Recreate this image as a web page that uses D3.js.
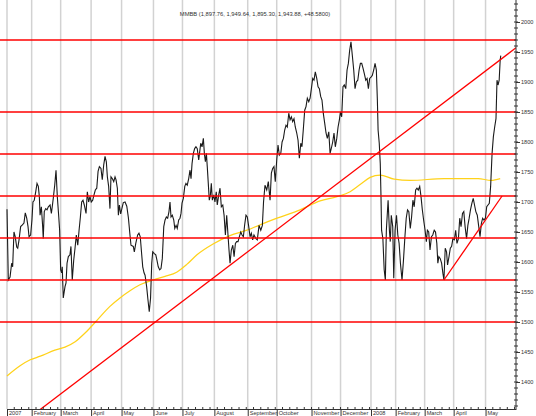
<!DOCTYPE html>
<html>
<head>
<meta charset="utf-8">
<title>MMBB</title>
<style>
  body { margin: 0; background: #fff; }
  .grid { stroke: #d2d2d2; stroke-width: 1.5px; }
  .level { stroke: #ff0000; stroke-width: 1.5px; }
  .trend { stroke: #ff0000; stroke-width: 1.3px; fill: none; }
  .price { fill: none; stroke: #1a1a1a; stroke-width: 1.1px; }
  .avg { fill: none; stroke: #ffd21a; stroke-width: 1.25px; }
  .axis text { font-family: "Liberation Sans", Arial, sans-serif; font-size: 5.6px; fill: #333; }
  .axis path, .axis line { stroke: #333; stroke-width: 1px; }
  .title { font-family: "Liberation Sans", Arial, sans-serif; font-size: 5.8px; fill: #333; }
</style>
</head>
<body>
<svg class="chart"></svg>
<script src="https://d3js.org/d3.v7.min.js"></script>
<script>
// closes: [session index, close]
var closes = [[0,1688],[0.9,1570],[2.1,1575],[3.2,1598],[3.9,1592],[4.8,1650],[5.7,1642],[6.7,1625],[7.4,1623],[8.3,1637],[9.4,1659],[10.6,1662],[11.7,1665],[12.6,1682],[13.6,1673],[14.5,1659],[15.2,1642],[16.3,1645],[17.2,1670],[17.9,1700],[18.8,1703],[19.8,1717],[20.7,1731],[21.6,1726],[22.3,1709],[22.8,1678],[23.7,1692],[24.6,1659],[25.0,1639],[25.7,1684],[26.7,1689],[27.6,1687],[28.5,1692],[29.7,1695],[30.6,1681],[31.2,1692],[31.9,1706],[32.9,1728],[33.8,1753],[34.7,1709],[35.7,1675],[36.3,1653],[37.0,1587],[37.7,1582],[38.1,1592],[38.8,1540],[40.0,1559],[40.7,1565],[41.4,1598],[42.3,1609],[43.4,1612],[44.1,1626],[45.0,1570],[46.0,1603],[46.9,1623],[47.8,1645],[48.8,1628],[49.7,1653],[50.6,1675],[51.5,1700],[52.4,1703],[53.3,1695],[54.5,1681],[55.4,1717],[56.3,1700],[57.2,1709],[58.1,1700],[59.1,1703],[60.0,1712],[60.9,1720],[61.9,1723],[62.8,1751],[63.7,1759],[64.8,1756],[65.7,1737],[66.7,1762],[67.6,1776],[68.5,1767],[69.2,1742],[70.1,1726],[71.0,1689],[71.7,1742],[72.6,1739],[73.6,1734],[74.5,1742],[75.2,1737],[76.1,1723],[76.8,1678],[77.5,1695],[78.4,1680],[79.3,1690],[80.2,1699],[81.4,1700],[82.6,1693],[83.7,1674],[84.8,1645],[85.5,1628],[87.1,1626],[87.8,1617],[88.8,1631],[90.1,1645],[91.0,1648],[91.9,1642],[92.8,1615],[93.6,1592],[94.5,1582],[95.2,1578],[96.3,1559],[97.2,1537],[98.1,1517],[99.0,1540],[99.8,1598],[100.5,1617],[101.6,1614],[102.6,1612],[103.4,1603],[104.3,1592],[105.3,1587],[106.2,1589],[107.1,1606],[108.1,1659],[109.0,1670],[109.9,1675],[110.8,1673],[111.7,1684],[112.4,1700],[113.1,1675],[114.0,1678],[115.0,1670],[115.7,1656],[116.6,1661],[117.4,1656],[118.4,1670],[119.3,1673],[120.0,1681],[120.7,1698],[121.6,1706],[122.6,1726],[123.4,1731],[124.3,1728],[125.3,1739],[126.2,1753],[126.9,1739],[127.6,1764],[128.5,1781],[129.4,1789],[130.3,1792],[131.2,1789],[132.2,1770],[132.9,1784],[133.6,1798],[134.5,1792],[135.4,1806],[136.1,1781],[136.8,1767],[137.5,1781],[138.1,1759],[138.8,1731],[139.5,1703],[140.2,1710],[140.9,1731],[141.6,1703],[142.6,1712],[143.4,1700],[144.3,1717],[145.0,1695],[146.0,1712],[146.9,1723],[147.8,1692],[148.8,1695],[149.7,1678],[150.6,1645],[151.5,1678],[152.4,1645],[153.1,1620],[153.8,1598],[154.7,1620],[155.7,1628],[156.6,1609],[157.5,1631],[158.4,1634],[159.3,1634],[160.2,1642],[161.2,1650],[162.1,1645],[163.0,1642],[163.9,1662],[164.8,1678],[165.7,1675],[166.7,1659],[167.6,1642],[168.5,1648],[169.4,1637],[170.3,1645],[171.7,1639],[172.6,1637],[173.8,1661],[175.0,1653],[176.1,1661],[176.9,1700],[177.9,1728],[179.1,1720],[180.2,1734],[181.4,1703],[182.3,1748],[183.2,1756],[184.1,1759],[185.0,1734],[186.0,1770],[186.9,1795],[187.8,1778],[188.8,1781],[189.7,1800],[190.6,1806],[191.5,1820],[192.4,1828],[193.3,1825],[194.3,1848],[195.2,1837],[196.1,1842],[197.0,1834],[197.9,1839],[198.8,1825],[199.8,1815],[200.7,1803],[201.6,1773],[202.6,1798],[203.4,1792],[204.3,1820],[205.3,1853],[206.2,1859],[207.1,1873],[208.1,1867],[209.0,1873],[209.9,1889],[210.8,1906],[211.7,1903],[212.6,1917],[213.6,1906],[214.5,1892],[215.4,1889],[216.3,1876],[217.2,1870],[218.1,1848],[219.1,1831],[220.0,1815],[220.9,1806],[221.9,1817],[222.8,1781],[223.7,1790],[224.6,1800],[225.5,1815],[226.4,1792],[227.4,1806],[228.3,1825],[229.2,1837],[229.9,1850],[230.8,1842],[231.7,1892],[232.6,1895],[233.6,1889],[234.5,1920],[235.4,1931],[236.3,1953],[237.2,1967],[238.1,1945],[239.1,1920],[240.0,1889],[240.9,1900],[241.9,1903],[242.8,1920],[243.7,1931],[244.6,1931],[245.5,1923],[246.4,1914],[247.4,1903],[248.3,1906],[249.2,1889],[250.1,1906],[251.0,1908],[251.9,1911],[252.9,1920],[253.8,1931],[254.7,1920],[255.4,1870],[255.9,1820],[256.7,1798],[257.4,1764],[257.9,1709],[258.3,1653],[259.2,1639],[260.1,1587],[260.9,1570],[261.6,1653],[262.8,1703],[263.7,1653],[264.3,1634],[265.0,1678],[266.0,1659],[266.7,1573],[267.6,1653],[268.6,1678],[269.5,1645],[270.4,1631],[271.3,1598],[272.4,1570],[273.4,1603],[274.4,1642],[275.3,1673],[276.2,1687],[277.1,1684],[278.1,1656],[279.0,1675],[279.9,1703],[280.8,1692],[281.8,1720],[282.7,1723],[283.6,1720],[284.6,1726],[285.5,1709],[286.4,1687],[287.3,1670],[288.3,1653],[289.2,1634],[289.9,1653],[290.8,1650],[291.7,1620],[292.7,1642],[293.6,1645],[294.6,1653],[295.5,1650],[296.4,1631],[297.1,1598],[297.8,1609],[298.7,1606],[299.7,1598],[300.6,1581],[301.3,1570],[302.2,1623],[303.1,1617],[303.8,1595],[304.8,1609],[305.7,1623],[306.6,1626],[307.5,1639],[308.5,1637],[309.4,1653],[310.3,1631],[311.3,1639],[312.2,1673],[313.1,1659],[314.1,1681],[315.0,1684],[315.9,1659],[316.9,1639],[317.8,1661],[318.7,1673],[319.6,1687],[320.6,1698],[321.5,1706],[322.4,1695],[323.3,1684],[324.3,1678],[325.2,1661],[326.2,1642],[327.1,1664],[328.0,1673],[328.9,1670],[329.9,1673],[330.8,1692],[331.7,1695],[332.6,1698],[333.5,1726],[334.5,1781],[335.4,1809],[336.3,1825],[337.2,1839],[337.9,1903],[338.6,1895],[339.4,1903],[340.1,1937],[340.5,1944]];

// moving average (yellow)
var average = [[0,1410],[9,1427],[16,1437],[23,1443],[33,1453],[40,1458],[47,1467],[54,1482],[61,1500],[71,1526],[77.9,1540],[84.8,1552],[91.7,1562],[100.7,1570],[109,1576],[117,1583],[124,1596],[131,1612],[142.1,1630],[153.8,1644],[165.5,1653],[174.5,1662],[186.2,1673],[202.1,1687],[215.9,1702],[227.6,1709],[236.6,1717],[243.5,1729],[250.4,1741],[257.3,1745],[267,1738],[278,1736],[301.4,1739],[324.9,1739],[333.9,1736],[340.1,1739]];

var levels = [1970, 1850, 1780, 1710, 1640, 1570, 1500];
var trendLong = [[22.8,1354],[351,1957]];
var trendShort = [[301.3,1570],[341.4,1710]];

var monthStarts = [0, 17, 37, 58, 79, 101, 121, 143, 166, 186, 210, 230, 251, 268, 288, 308, 330];
var monthLabels = ["2007", "February", "March", "April", "May", "June", "July", "August", "September",
                   "October", "November", "December", "2008", "February", "March", "April", "May"];
var priceTicks = [1400, 1450, 1500, 1550, 1600, 1650, 1700, 1750, 1800, 1850, 1900, 1950, 2000];

var titleText = "MMBB (1,897.76, 1,949.64, 1,895.30, 1,943.88, +48.5800)";

var width = 536, height = 416;
var plot = {left: 7, right: 516, top: 1, bottom: 409};

var svg = d3.select(".chart")
    .attr("width", width)
    .attr("height", height);

var x = d3.scaleLinear().domain([0, 351]).range([plot.left, plot.right]);
var y = d3.scaleLinear().domain([1355, 2035]).range([plot.bottom, plot.top]);

svg.append("defs").append("clipPath").attr("id", "clip")
  .append("rect")
    .attr("x", 0).attr("y", 0)
    .attr("width", plot.right).attr("height", plot.bottom);

// month gridlines
svg.append("g")
  .selectAll("line")
  .data(monthStarts)
  .enter().append("line")
    .attr("class", "grid")
    .attr("x1", function(d) { return x(d); })
    .attr("x2", function(d) { return x(d); })
    .attr("y1", 0)
    .attr("y2", plot.bottom);

var body = svg.append("g").attr("clip-path", "url(#clip)");

var line = d3.line()
    .x(function(d) { return x(d[0]); })
    .y(function(d) { return y(d[1]); });

var smooth = d3.line()
    .curve(d3.curveMonotoneX)
    .x(function(d) { return x(d[0]); })
    .y(function(d) { return y(d[1]); });

body.append("path").datum(average).attr("class", "avg").attr("d", smooth);
body.append("path").datum(closes).attr("class", "price").attr("d", line);

// horizontal levels
body.selectAll("line.level")
  .data(levels)
  .enter().append("line")
    .attr("class", "level")
    .attr("x1", 0)
    .attr("x2", plot.right)
    .attr("y1", function(d) { return y(d); })
    .attr("y2", function(d) { return y(d); });

body.append("path").datum(trendLong).attr("class", "trend").attr("d", line);
body.append("path").datum(trendShort).attr("class", "trend").attr("d", line);

// right price axis
var yAxis = svg.append("g")
    .attr("class", "axis")
    .attr("transform", "translate(" + plot.right + ",0)")
    .call(d3.axisRight(y).tickValues(priceTicks).tickSize(4).tickSizeOuter(0).tickPadding(1)
      .tickFormat(d3.format("d")));
yAxis.selectAll("line.minor")
  .data(d3.range(1360, 2031, 10))
  .enter().append("line")
    .attr("class", "minor")
    .attr("x1", -2).attr("x2", 2)
    .attr("y1", function(d) { return y(d); })
    .attr("y2", function(d) { return y(d); });
yAxis.select(".domain").attr("d", "M0," + 0 + "V" + plot.bottom);

// bottom month axis
var xAxis = svg.append("g")
    .attr("class", "axis")
    .attr("transform", "translate(0," + plot.bottom + ")")
    .call(d3.axisBottom(x).tickValues(monthStarts).tickSize(8).tickSizeOuter(0)
      .tickFormat(function(d, i) { return monthLabels[i]; }));
xAxis.selectAll(".tick text")
    .attr("text-anchor", "start")
    .attr("x", 1.5)
    .attr("y", 2)
    .attr("dy", "0.71em");
xAxis.selectAll("line.week")
  .data(d3.range(5, 351, 5))
  .enter().append("line")
    .attr("class", "week")
    .attr("x1", function(d) { return x(d); })
    .attr("x2", function(d) { return x(d); })
    .attr("y1", 0).attr("y2", -2);

svg.append("text")
    .attr("class", "title")
    .attr("x", 255)
    .attr("y", 16)
    .attr("text-anchor", "middle")
    .text(titleText);
</script>
</body>
</html>
